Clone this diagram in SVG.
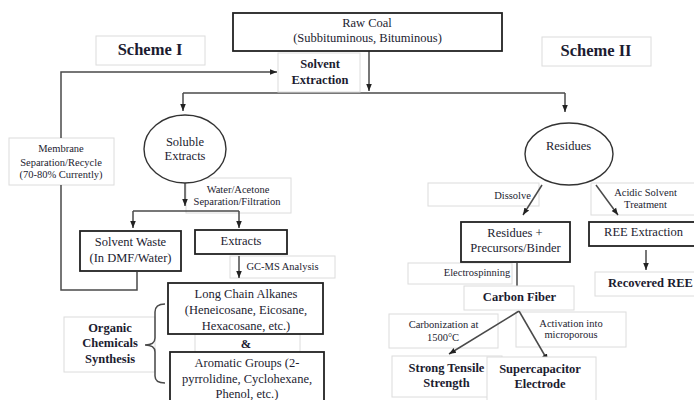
<svg xmlns="http://www.w3.org/2000/svg" width="694" height="400" viewBox="0 0 694 400">
<defs>
<marker id="ah" markerWidth="8" markerHeight="8" refX="7" refY="4" orient="auto" markerUnits="userSpaceOnUse">
<path d="M0,1.2 L7,4 L0,6.8 Z" fill="#222"/>
</marker>
<style>
text{font-family:"Liberation Serif","Times New Roman","DejaVu Serif",serif;fill:#1c1c30;text-anchor:middle}
.n{font-size:12.5px}
.s{font-size:10.5px}
.b{font-weight:bold;font-size:12.5px}
.h{font-weight:bold;font-size:16.5px}
.box{fill:#fff;stroke:#222;stroke-width:1.8}
.lb{fill:#fff;stroke:#dcdcdc;stroke-width:1}
.el{fill:#fff;stroke:#333;stroke-width:1.4}
.c{fill:none;stroke:#4a4a4a;stroke-width:1.5}
.a{fill:none;stroke:#4a4a4a;stroke-width:1.5;marker-end:url(#ah)}
</style>
</defs>
<rect width="694" height="400" fill="#fff"/>

<g id="labels">
<g id="scheme1"><rect class="lb" x="96" y="36" width="109" height="29"/><text class="h" x="150" y="55">Scheme I</text></g>
<g id="scheme2"><rect class="lb" x="542" y="37" width="109" height="29"/><text class="h" x="596" y="56">Scheme II</text></g>
<g id="membrane"><rect class="lb" x="9" y="138" width="105" height="47"/>
<text class="s" x="61" y="151.5">Membrane</text><text class="s" x="61" y="165.5">Separation/Recycle</text><text class="s" x="61" y="177.5">(70-80% Currently)</text></g>
<g id="lbl-water"><rect class="lb" x="186" y="178" width="105" height="35"/>
<text class="s" x="238" y="192.5">Water/Acetone</text><text class="s" x="237" y="204.5">Separation/Filtration</text></g>
<g id="lbl-gcms"><rect class="lb" x="230" y="256" width="105" height="22"/><text class="s" x="282.5" y="269.5">GC-MS Analysis</text></g>
<g id="organic"><rect class="lb" x="64" y="317" width="91" height="55"/>
<text class="b" x="110" y="332">Organic</text><text class="b" x="110" y="347">Chemicals</text><text class="b" x="110" y="363">Synthesis</text></g>
<g id="amp"><rect class="lb" x="195" y="334" width="105" height="18"/><text class="b" x="246" y="348">&amp;</text></g>
<g id="lbl-dissolve"><rect class="lb" x="428" y="183" width="111" height="23"/><text class="s" x="512.5" y="198.5">Dissolve</text></g>
<g id="lbl-acidic"><rect class="lb" x="591" y="183" width="104" height="32"/>
<text class="s" x="645.5" y="195.5">Acidic Solvent</text><text class="s" x="645.5" y="207.5">Treatment</text></g>
<g id="lbl-electro"><rect class="lb" x="408" y="263" width="104" height="21"/><text class="s" x="477" y="275.5">Electrospinning</text></g>
<g id="lbl-carbonization"><rect class="lb" x="389" y="314" width="109" height="34"/>
<text class="s" x="443.5" y="327.5">Carbonization at</text><text class="s" x="443" y="340.5">1500°C</text></g>
<g id="lbl-activation"><rect class="lb" x="516" y="312" width="110" height="35"/>
<text class="s" x="571" y="326.5">Activation into</text><text class="s" x="571" y="337.5">microporous</text></g>
</g>

<g id="connectors">
<path class="a" d="M61,138 L61,72 L277,72"/>
<path class="c" d="M61,185 L61,290 L137,290 L137,272"/>
<path class="a" d="M369,51 L369,91"/>
<path class="c" d="M183,93 L565,93"/>
<path class="a" d="M183,93 L183,111"/>
<path class="a" d="M565,93 L565,112"/>
<path class="a" d="M185,183 L185,206"/>
<path class="c" d="M133,211 L239,211"/>
<path class="a" d="M133,211 L133,228"/>
<path class="a" d="M239,211 L239,228"/>
<path class="a" d="M239,256 L239,278"/>
<path class="c" d="M165,304 Q155,304 155,312 L155,338 Q155,345 145,345 Q155,345 155,352 L155,376 Q155,383 165,383"/>
<path class="a" d="M542,185 L523,215"/>
<path class="a" d="M596,185 L618,215"/>
<path class="a" d="M646,250 L646,270"/>
<path class="a" d="M517,263 L517,295"/>
<path class="a" d="M519,311 L449,354"/>
<path class="a" d="M519,311 L548,361"/>
</g>

<g id="rawcoal"><rect class="box" x="233" y="13" width="269" height="38"/>
<text class="n" x="367" y="27">Raw Coal</text><text class="n" x="367.5" y="42">(Subbituminous, Bituminous)</text></g>
<g id="solvent-extraction"><rect class="lb" x="278" y="53" width="82" height="39"/>
<text class="b" x="320" y="68">Solvent</text><text class="b" x="320" y="84">Extraction</text></g>
<g id="soluble"><ellipse class="el" cx="185" cy="149" rx="41" ry="34"/>
<text class="n" x="185" y="146">Soluble</text><text class="n" x="185" y="160">Extracts</text></g>
<g id="solvent-waste"><rect class="box" x="80" y="231" width="101" height="40"/>
<text class="n" x="130.5" y="246">Solvent Waste</text><text class="n" x="130.5" y="262">(In DMF/Water)</text></g>
<g id="extracts"><rect class="box" x="195" y="230" width="92" height="24"/><text class="n" x="241" y="245">Extracts</text></g>
<g id="alkanes"><rect class="box" x="168" y="283" width="155" height="51"/>
<text class="n" x="246" y="298">Long Chain Alkanes</text><text class="n" x="246" y="314">(Heneicosane, Eicosane,</text><text class="n" x="246" y="330">Hexacosane, etc.)</text></g>
<g id="aromatic"><rect class="box" x="170" y="352" width="154" height="52"/>
<text class="n" x="247" y="367">Aromatic Groups (2-</text><text class="n" x="247" y="383">pyrrolidine, Cyclohexane,</text><text class="n" x="247" y="398">Phenol, etc.)</text></g>
<g id="residues"><ellipse class="el" cx="569" cy="154" rx="44" ry="31"/><text class="n" x="568.5" y="150">Residues</text></g>
<g id="precursors"><rect class="box" x="461" y="222" width="109" height="40"/>
<text class="n" x="515" y="237">Residues +</text><text class="n" x="515.5" y="252">Precursors/Binder</text></g>
<g id="ree-extraction"><rect class="box" x="589" y="222" width="106" height="24"/><text class="n" x="643.5" y="236">REE Extraction</text></g>
<g id="recovered-ree"><rect class="lb" x="595" y="272" width="100" height="24"/><text class="b" x="650.5" y="287">Recovered REE</text></g>
<g id="carbon-fiber"><rect class="lb" x="464" y="286" width="110" height="24"/><text class="b" x="519.5" y="301">Carbon Fiber</text></g>
<g id="tensile"><rect class="lb" x="392" y="356" width="110" height="41"/>
<text class="b" x="446.5" y="372">Strong Tensile</text><text class="b" x="446.5" y="387">Strength</text></g>
<g id="supercap"><rect class="lb" x="487" y="357" width="109" height="45"/>
<text class="b" x="540" y="373">Supercapacitor</text><text class="b" x="540" y="388">Electrode</text></g>
</svg>
